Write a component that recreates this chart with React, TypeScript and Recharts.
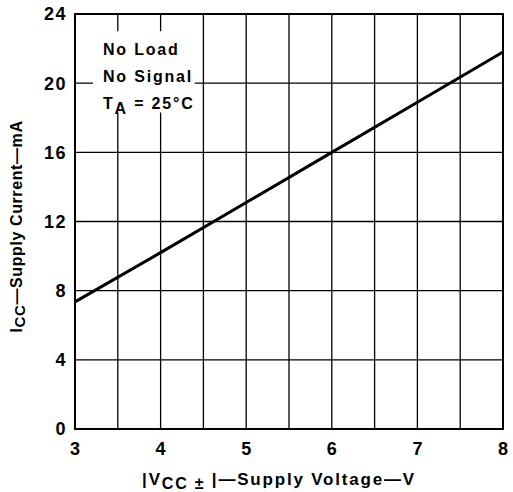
import React from "react";
import {
  LineChart,
  Line,
  XAxis,
  YAxis,
  CartesianGrid,
  ReferenceArea,
} from "recharts";

const voltage = [3, 4, 5, 6, 7, 8];
const supplyCurrent = [7.35, 10.2, 13.1, 16.0, 18.9, 21.8];
const xTicks = [3, 3.5, 4, 4.5, 5, 5.5, 6, 6.5, 7, 7.5, 8];
const yTicks = [0, 4, 8, 12, 16, 20, 24];

const data = voltage.map((v, i) => ({ v, icc: supplyCurrent[i] }));

const FONT = "'Liberation Sans', Arial, Helvetica, sans-serif";

function YTitle(props: any) {
  const vb = props.viewBox || {};
  const cx = 22;
  const cy = vb.y + vb.height / 2 + 5;
  return (
    <text
      x={cx}
      y={cy}
      transform={`rotate(-90 ${cx} ${cy})`}
      textAnchor="middle"
      fontFamily={FONT}
      fontWeight="bold"
      fontSize={16}
      letterSpacing={0.6}
      fill="#000"
    >
      I
      <tspan fontSize={15} dy={3}>CC</tspan>
      <tspan dy={-3}>—Supply Current—mA</tspan>
    </text>
  );
}

function XTitle(props: any) {
  const vb = props.viewBox || {};
  const cx = vb.x + vb.width / 2 - 10;
  return (
    <text
      x={cx}
      y={485}
      textAnchor="middle"
      fontFamily={FONT}
      fontWeight="bold"
      fontSize={17}
      letterSpacing={1.8}
      fill="#000"
    >
      |V
      <tspan fontSize={16} dy={4}>CC ±</tspan>
      <tspan dy={-4}> |—Supply Voltage—V</tspan>
    </text>
  );
}

export default function App() {
  return (
    <div style={{ position: "absolute", left: 0, top: 0, width: 513, height: 492, background: "#fff" }}>
      <LineChart
        width={513}
        height={492}
        data={data}
        margin={{ top: 14, right: 10, left: 0, bottom: 0 }}
      >
        <CartesianGrid stroke="#000" strokeWidth={1.3} />
        <XAxis
          dataKey="v"
          type="number"
          domain={[3, 8]}
          ticks={xTicks}
          tickFormatter={(t: number) => (Number.isInteger(t) ? String(t) : "")}
          interval={0}
          height={63}
          tickSize={0}
          tickMargin={13}
          tick={{ fill: "#000", fontSize: 18, fontWeight: "bold", fontFamily: FONT }}
          axisLine={{ stroke: "#000", strokeWidth: 2 }}
          label={{ content: XTitle }}
        />
        <YAxis
          type="number"
          domain={[0, 24]}
          ticks={yTicks}
          interval={0}
          width={75}
          tickSize={0}
          tickMargin={8}
          tick={{ fill: "#000", fontSize: 18, fontWeight: "bold", fontFamily: FONT, letterSpacing: 1.5 }}
          axisLine={{ stroke: "#000", strokeWidth: 2 }}
          label={{ content: YTitle }}
        />
        <ReferenceArea
          x1={3.21}
          x2={4.4}
          y1={18.3}
          y2={23.0}
          fill="#fff"
          fillOpacity={1}
          stroke="none"
        />
        <ReferenceArea
          x1={3}
          x2={8}
          y1={0}
          y2={24}
          fill="none"
          stroke="#000"
          strokeWidth={2}
        />
        <Line
          type="linear"
          dataKey="icc"
          stroke="#000"
          strokeWidth={3}
          dot={false}
          isAnimationActive={false}
        />
      </LineChart>
      <div
        style={{
          position: "absolute",
          left: 103,
          top: 36,
          fontFamily: FONT,
          fontWeight: "bold",
          fontSize: 16,
          letterSpacing: 1.8,
          lineHeight: "27px",
          color: "#000",
          whiteSpace: "nowrap",
        }}
      >
        <div>No Load</div>
        <div>No Signal</div>
        <div>
          T<sub style={{ fontSize: 16, verticalAlign: "-5px", lineHeight: 0 }}>A</sub> = 25°C
        </div>
      </div>
    </div>
  );
}
